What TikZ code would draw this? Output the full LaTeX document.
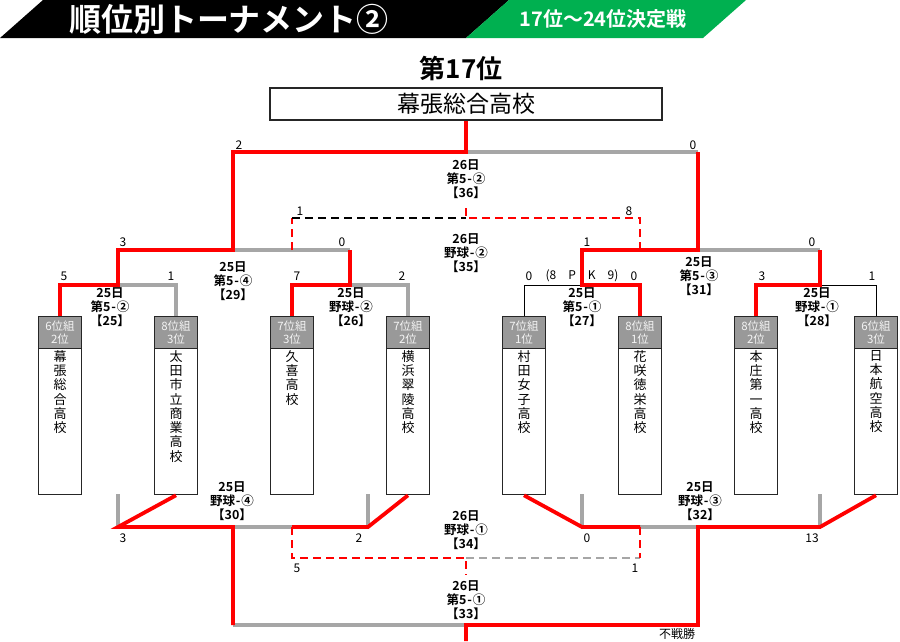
\documentclass[tikz,border=0pt]{standalone}
\usepackage{fontspec}
\setmainfont{Noto Sans CJK JP}[BoldFont={Noto Sans CJK JP Bold}]
\usepackage{xcolor}
\usepackage{tikz}
\usetikzlibrary{positioning}
\definecolor{ink}{HTML}{000000}
\definecolor{winred}{HTML}{FF0000}
\definecolor{losegray}{HTML}{A6A6A6}
\definecolor{hdgray}{HTML}{999999}
\definecolor{hdtext}{HTML}{F4F4F4}
\definecolor{bandgreen}{HTML}{00B050}
\newcommand{\hy}{\hbox to .5em{\hss-\hss}}
\tikzset{
  won/.style={draw=winred, line width=3.8pt, line join=miter},
  lost/.style={draw=losegray, line width=3.2pt},
  blk/.style={draw=ink, line width=1pt},
  wond/.style={draw=winred, line width=2.6pt, dash pattern=on 8pt off 5pt},
  lostd/.style={draw=losegray, line width=2.6pt, dash pattern=on 8pt off 5pt},
  blkd/.style={draw=ink, line width=2.6pt, dash pattern=on 8pt off 5pt},
  mlab/.style={font=\bfseries\fontsize{12.5}{14}\selectfont, align=center, inner sep=0pt},
  score/.style={font=\fontsize{12}{14}\selectfont, inner sep=0pt},
  teambox/.style={draw=ink!85, line width=1.3pt, minimum width=43pt, minimum height=178pt, inner sep=0pt},
  grpbox/.style={draw=ink!85, line width=1.3pt, fill=hdgray, text=hdtext, minimum width=43pt, minimum height=32pt, inner sep=0pt, align=center, font=\fontsize{11.5}{12.5}\selectfont},
  vname/.style={align=center, inner sep=0pt, font=\fontsize{13}{14.3}\selectfont},
}
\begin{document}
\begin{tikzpicture}[x=1pt, y=-1pt]
\useasboundingbox (0,0) rectangle (900,641);

% header band
\fill[black] (43,0) -- (509,0) -- (466,38) -- (0,38) -- cycle;
\fill[bandgreen] (509,0) -- (746,0) -- (703,38) -- (466,38) -- cycle;
\node[font=\bfseries\fontsize{32}{34}\selectfont, text=white] (ttl) at (229,19) {順位別トーナメント②};
\node[font=\bfseries\fontsize{20}{22}\selectfont, text=white] (sub) at (603,19) {17位〜24位決定戦};

% winner
\node[font=\bfseries\fontsize{26}{28}\selectfont] (rank) at (461,69) {第17位};
\node[draw=ink!85, line width=1.2pt, minimum width=392pt, minimum height=32pt, inner sep=0pt,
      font=\fontsize{23}{25}\selectfont] (champ) at (466,104) {幕張総合高校};

% team boxes
\foreach \i/\x/\g/\s in {
  1/60/{6位組\\2位}/{幕\\張\\総\\合\\高\\校},
  2/176/{8位組\\3位}/{太\\田\\市\\立\\商\\業\\高\\校},
  3/292/{7位組\\3位}/{久\\喜\\高\\校},
  4/408/{7位組\\2位}/{横\\浜\\翠\\陵\\高\\校},
  5/524/{7位組\\1位}/{村\\田\\女\\子\\高\\校},
  6/640/{8位組\\1位}/{花\\咲\\徳\\栄\\高\\校},
  7/756/{8位組\\2位}/{本\\庄\\第\\一\\高\\校},
  8/876/{6位組\\3位}/{日\\本\\航\\空\\高\\校}}{
  \node[teambox, anchor=north] (t\i) at (\x,316) {};
  \node[grpbox, anchor=north] (g\i) at (t\i.north) {\g};
  \node[vname, anchor=north] (n\i) at (\x,350) {\s};
}

% upper bracket: losing lines
\draw[lost] (118,285) -- (176,285) -- (t2.north);
\draw[lost] (350,285) -- (408,285) -- (t4.north);
\draw[lost] (233,250) -- (350,250);
\draw[lost] (466,152) -- (698,152);
\draw[lost] (698,250) -- (820,250);
\draw[blk] (582,285) -- (524,285) -- (t5.north);
\draw[blk] (820,285) -- (876,285) -- (t8.north);

% upper bracket: winning lines
\draw[won] (t1.north) -- (60,285) -- (118,285) -- (118,250) -- (233,250) -- (233,152) -- (466,152) -- (champ.south);
\draw[won] (t3.north) -- (292,285) -- (350,285) -- (350,250);
\draw[won] (698,152) -- (698,250) -- (582,250) -- (582,285) -- (640,285) -- (t6.north);
\draw[won] (820,250) -- (820,285) -- (756,285) -- (t7.north);

% 35
\draw[wond] (292,250) -- (292,218);
\draw[blkd] (292,218) -- (466,218);
\draw[wond] (640,250) -- (640,218) -- (466,218) -- (466,205);

% lower bracket: losing lines
\draw[lost] (118,494) -- (118,527);
\draw[lost] (368,494) -- (368,527);
\draw[lost] (582,494) -- (582,527);
\draw[lost] (820,494) -- (820,527);
\draw[lost] (233,527) -- (292,527);
\draw[lost] (640,527) -- (698,527);
\draw[lost] (233,625) -- (466,625);
\draw[lostd] (466,558) -- (640,558);

% lower bracket: winning lines
\draw[won] (t2.south) -- (118,527) -- (233,527) -- (233,625);
\draw[won] (t4.south) -- (368,527) -- (292,527);
\draw[won] (t5.south) -- (582,527) -- (640,527);
\draw[won] (t8.south) -- (820,527) -- (698,527) -- (698,625) -- (466,625) -- (466,641);
\draw[wond] (292,527) -- (292,558) -- (466,558) -- (466,575);
\draw[wond] (640,527) -- (640,558);

% match labels
\foreach \n/\x/\y/\t in {
  36/466/179/{26日\\第5\hy②\\【36】},
  35/466/253/{26日\\野球\hy②\\【35】},
  29/233/281/{25日\\第5\hy④\\【29】},
  31/699/276/{25日\\第5\hy③\\【31】},
  25/110/307/{25日\\第5\hy②\\【25】},
  26/351/307/{25日\\野球\hy②\\【26】},
  27/582/307/{25日\\第5\hy①\\【27】},
  28/817/307/{25日\\野球\hy①\\【28】},
  30/232/501/{25日\\野球\hy④\\【30】},
  32/700/501/{25日\\野球\hy③\\【32】},
  34/466/530/{26日\\野球\hy①\\【34】},
  33/466/600/{26日\\第5\hy①\\【33】}}{
  \node[mlab] (m\n) at (\x,\y) {\t};
}

% scores
\foreach \x/\y/\t [count=\i] in {
  239/145/2, 693/145/0, 300/211/1, 629/211/8,
  123/242/3, 342/242/0, 587/242/1, 812/242/0,
  64/276/5, 171/276/1, 297/276/7, 402/276/2,
  529/276/0, 634/276/0, 762/276/3, 872/276/1,
  123/538/3, 359/538/2, 587/538/0, 812/538/13,
  297/568/5, 635/568/1}{
  \node[score] (sc\i) at (\x,\y) {\t};
}
\node[score] (pk) at (582,276) {(8　P　K　9)};
\node[score] (bye) at (677,634) {不戦勝};
\end{tikzpicture}
\end{document}
